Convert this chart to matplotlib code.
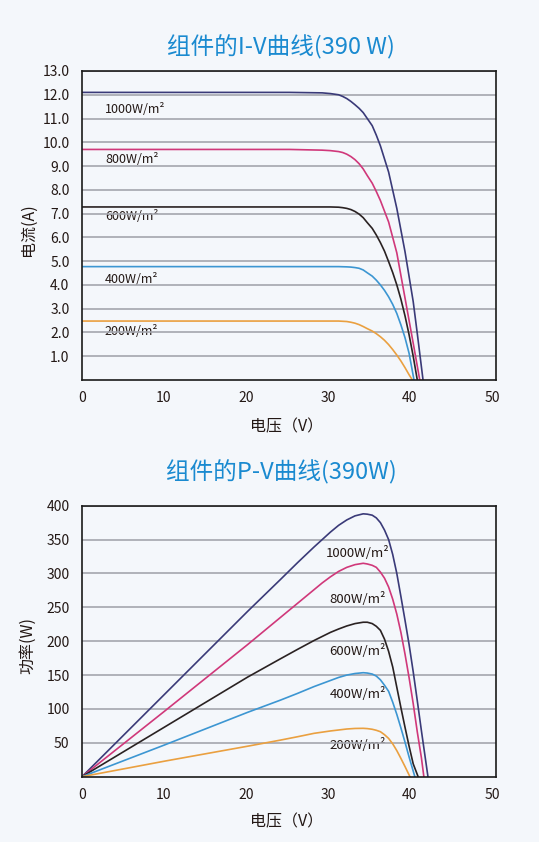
import matplotlib
matplotlib.use('Agg')
import matplotlib.pyplot as plt

plt.rcParams['font.family'] = ['Noto Sans CJK SC', 'DejaVu Sans']

# irradiance labels and colours
levels = ['1000W/m²', '800W/m²', '600W/m²', '400W/m²', '200W/m²']
colors = ['#3a3a78', '#d0387a', '#2a2222', '#3c96d2', '#eaa040']

# I-V curves (voltage V, current A)
iv_v_1000 = [0, 25.3, 29.3, 30.3, 31.3, 31.8, 32.3, 32.8, 33.3, 33.8, 34.3, 34.8, 35.4, 35.9,
             36.4, 37.4, 38.4, 39.4, 40.4, 40.9, 41.6]
iv_i_1000 = [12.10, 12.10, 12.08, 12.05, 12.00, 11.93, 11.84, 11.72, 11.58, 11.43, 11.25, 11.00,
             10.70, 10.30, 9.85, 8.75, 7.22, 5.40, 3.30, 1.95, 0]
iv_v_800 = [0, 25.3, 29.3, 30.3, 31.3, 31.8, 32.3, 32.8, 33.3, 33.8, 34.3, 34.8, 35.4, 35.9,
            36.4, 37.4, 38.4, 39.4, 40.4, 41.2]
iv_i_800 = [9.70, 9.70, 9.67, 9.65, 9.61, 9.57, 9.50, 9.40, 9.27, 9.10, 8.88, 8.60, 8.28, 7.93,
            7.55, 6.65, 5.35, 3.45, 1.55, 0]
iv_v_600 = [0, 25.3, 30.3, 31.3, 31.8, 32.3, 32.8, 33.3, 33.8, 34.3, 34.8, 35.4, 35.9, 36.4,
            36.9, 37.4, 37.9, 38.4, 38.9, 39.4, 39.9, 40.4, 40.9]
iv_i_600 = [7.28, 7.28, 7.28, 7.27, 7.25, 7.22, 7.17, 7.09, 6.98, 6.83, 6.62, 6.38, 6.10, 5.78,
            5.42, 4.98, 4.52, 4.00, 3.40, 2.70, 1.90, 1.00, 0]
iv_v_400 = [0, 25.3, 31.3, 32.3, 32.8, 33.3, 33.8, 34.3, 34.8, 35.4, 35.9, 36.4, 36.9, 37.4,
            37.9, 38.4, 38.9, 39.4, 39.9, 40.5]
iv_i_400 = [4.77, 4.77, 4.77, 4.76, 4.75, 4.73, 4.70, 4.63, 4.51, 4.37, 4.20, 4.00, 3.77, 3.50,
            3.18, 2.80, 2.32, 1.78, 1.12, 0]
iv_v_200 = [0, 25.3, 31.3, 32.3, 32.8, 33.3, 33.8, 34.3, 34.8, 35.4, 35.9, 36.4, 36.9, 37.4,
            37.9, 38.4, 38.9, 39.4, 39.9, 40.3]
iv_i_200 = [2.48, 2.48, 2.48, 2.46, 2.43, 2.39, 2.33, 2.25, 2.16, 2.06, 1.95, 1.82, 1.67, 1.49,
            1.28, 1.05, 0.80, 0.52, 0.22, 0]

# P-V curves (voltage V, power W)
pv_v_1000 = [0, 10.1, 20.2, 24.2, 26.3, 28.3, 29.3, 30.3, 31.3, 32.3, 33.3, 34.3, 34.8, 35.4,
             35.9, 36.4, 36.9, 37.4, 37.9, 38.4, 38.9, 39.4, 39.9, 40.4, 40.9, 41.4, 42.2]
pv_p_1000 = [0, 122, 244, 291, 316, 339, 350, 361, 371, 379, 385, 388, 387.5, 386,
             382, 375, 364, 350, 328, 300, 266, 231, 195, 155, 112, 68, 0]
pv_v_800 = [0, 10.1, 20.2, 24.2, 26.3, 28.3, 29.3, 30.3, 31.3, 32.3, 33.3, 34.3, 34.8, 35.4,
            35.9, 36.4, 36.9, 37.4, 37.9, 38.4, 38.9, 39.4, 39.9, 40.4, 40.9, 41.4, 41.7]
pv_p_800 = [0, 97, 195, 235, 256, 276, 286, 295, 303, 309, 313, 315, 314, 312,
            309, 302, 293, 280, 262, 240, 213, 181, 146, 108, 66, 28, 0]
pv_v_600 = [0, 10.1, 20.2, 24.2, 26.3, 28.3, 29.3, 30.3, 31.3, 32.3, 33.3, 34.3, 34.8, 35.4,
            35.9, 36.4, 36.9, 37.4, 37.9, 38.4, 38.9, 39.4, 39.9, 40.4, 41.0]
pv_p_600 = [0, 73.5, 147, 174, 188, 201, 207, 213, 218, 222.5, 226, 228, 228, 226,
            222, 216, 203, 185, 162, 132, 102, 73, 45, 19, 0]
pv_v_400 = [0, 10.1, 20.2, 24.2, 26.3, 28.3, 30.3, 31.3, 32.3, 33.3, 34.3, 34.8, 35.4, 35.9,
            36.4, 36.9, 37.4, 37.9, 38.4, 38.9, 39.4, 39.9, 40.6]
pv_p_400 = [0, 47, 95, 113, 123, 133, 142, 146.5, 150, 152.3, 153.5, 153, 151.5, 148.5,
            143, 135, 126, 110, 92, 72, 51, 29, 0]
pv_v_200 = [0, 10.1, 20.2, 24.2, 26.3, 28.3, 30.3, 32.3, 33.3, 34.3, 34.8, 35.4, 35.9, 36.4,
            36.9, 37.4, 37.9, 38.4, 38.9, 39.4, 40.0]
pv_p_200 = [0, 23, 45, 54, 59, 64, 67.5, 70.4, 71.2, 71.4, 71, 70, 68.5, 66.4,
            62, 56.5, 48.5, 38.5, 27, 15, 0]

# label anchor points (data coords)
iv_label_y = [11.36, 9.26, 6.87, 4.21, 2.03]
pv_label_y = [330.6, 262, 186, 122, 46.6]

x_ticks = [0, 10, 20, 30, 40, 50]
iv_ticks = [1, 2, 3, 4, 5, 6, 7, 8, 9, 10, 11, 12, 13]
pv_ticks = [50, 100, 150, 200, 250, 300, 350, 400]

iv_curves = [(iv_v_1000, iv_i_1000), (iv_v_800, iv_i_800), (iv_v_600, iv_i_600),
             (iv_v_400, iv_i_400), (iv_v_200, iv_i_200)]
pv_curves = [(pv_v_1000, pv_p_1000), (pv_v_800, pv_p_800), (pv_v_600, pv_p_600),
             (pv_v_400, pv_p_400), (pv_v_200, pv_p_200)]

bg = '#f4f7fb'
title_color = '#1a8ad0'
text_color = '#231815'
W, H = 539, 842

fig = plt.figure(figsize=(W / 100, H / 100), dpi=100, facecolor=bg)


def setup(ax, yticks, ymax, fmt):
    ax.set_facecolor(bg)
    ax.set_xlim(0, 50.5)
    ax.set_ylim(0, ymax)
    ax.set_xticks(x_ticks)
    ax.set_yticks(yticks)
    ax.set_yticklabels([fmt.format(t) for t in yticks])
    ax.tick_params(length=0, labelsize=10, colors=text_color, pad=9)
    ax.tick_params(axis='x', pad=8)
    ax.set_axisbelow('line')
    ax.grid(axis='y', color='#a4a6ae', linewidth=1.2)
    for s in ax.spines.values():
        s.set_color('#1a1a1a')
        s.set_linewidth(1.2)


left = 82 / W
width = (496 - 82) / W

ax1 = fig.add_axes([left, 1 - 380 / H, width, (380 - 71) / H])
setup(ax1, iv_ticks, 13, '{:.1f}')
for (v, i), c, lab, ly in zip(iv_curves, colors, levels, iv_label_y):
    ax1.plot(v, i, color=c, linewidth=1.2, zorder=2)
    ax1.text(2.8, ly, lab, fontsize=9, color=text_color, va='center', ha='left', zorder=1)

ax2 = fig.add_axes([left, 1 - 776.7 / H, width, (776.7 - 505.7) / H])
setup(ax2, pv_ticks, 400, '{:d}')
for (v, p), c, lab, ly in zip(pv_curves, colors, levels, pv_label_y):
    ax2.plot(v, p, color=c, linewidth=1.2, zorder=2)
    ax2.text(33.6, ly, lab, fontsize=9.5, color=text_color, va='center', ha='center', zorder=1)

# titles and axis labels
fig.text(281 / W, 1 - 47 / H, '组件的I-V曲线(390 W)', fontsize=17, color=title_color,
         ha='center', va='center')
fig.text(281 / W, 1 - 472 / H, '组件的P-V曲线(390W)', fontsize=17, color=title_color,
         ha='center', va='center')
fig.text(28 / W, 1 - 230 / H, '电流(A)', fontsize=11.5, color=text_color,
         rotation=90, ha='center', va='center')
fig.text(28 / W, 1 - 646 / H, '功率(W)', fontsize=11.5, color=text_color,
         rotation=90, ha='center', va='center')
fig.text(287 / W, 1 - 427 / H, '电压（V）', fontsize=11.5, color=text_color,
         ha='center', va='center')
fig.text(287 / W, 1 - 822 / H, '电压（V）', fontsize=11.5, color=text_color,
         ha='center', va='center')

fig.savefig('out.png', dpi=100, facecolor=bg)
